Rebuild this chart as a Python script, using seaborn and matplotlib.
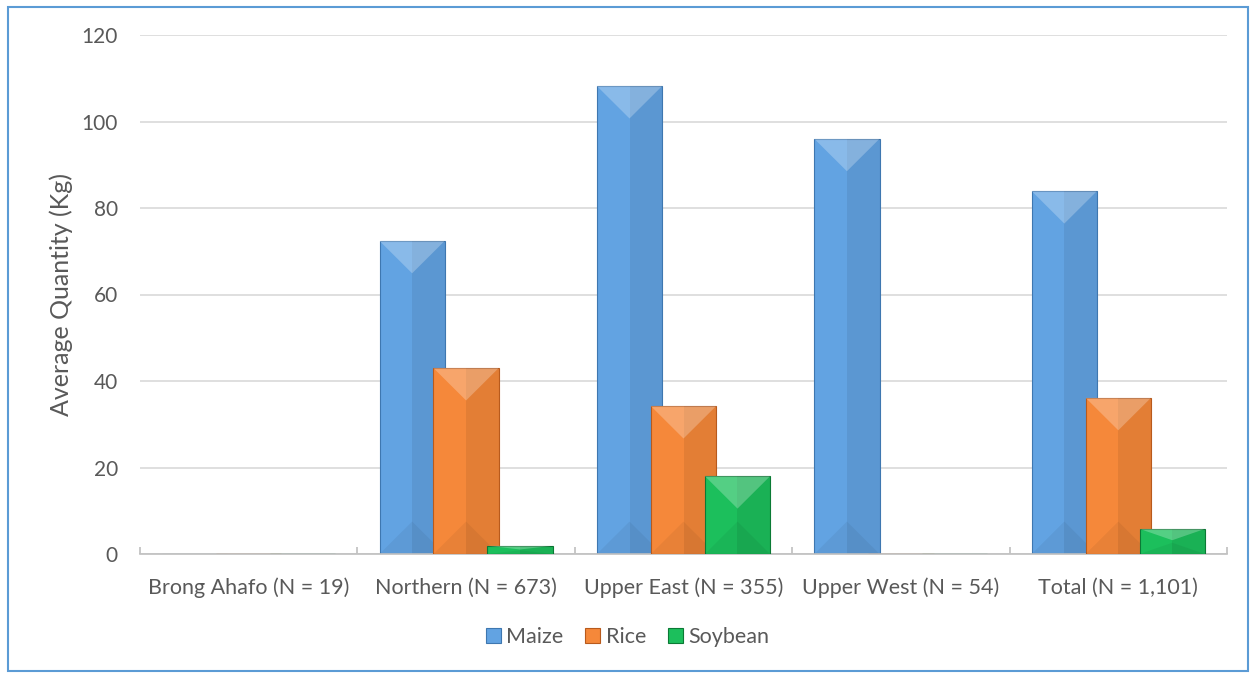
import matplotlib
matplotlib.use("Agg")
import matplotlib.pyplot as plt
import seaborn as sns
import pandas as pd
import numpy as np
from matplotlib.patches import Rectangle, Polygon
from matplotlib.ticker import FixedLocator

regions = ["Brong Ahafo (N = 19)", "Northern (N = 673)", "Upper East (N = 355)",
           "Upper West (N = 54)", "Total (N = 1,101)"]
crops = ["Maize", "Rice", "Soybean"]
maize = [0, 72.4, 108.2, 96.0, 83.9]
rice = [0, 43.0, 34.2, 0, 36.1]
soybean = [0, 1.9, 18.0, 0, 5.8]
yticks = [0, 20, 40, 60, 80, 100, 120]

colors = {"Maize": "#62A3E2", "Rice": "#F5883A", "Soybean": "#1CBF5C"}
edges = {"Maize": "#3E77B0", "Rice": "#B85A1C", "Soybean": "#0B7A35"}

df = pd.DataFrame({
    "Region": regions * 3,
    "Crop": ["Maize"] * 5 + ["Rice"] * 5 + ["Soybean"] * 5,
    "Value": maize + rice + soybean,
})

sns.set_theme(style="white")
plt.rcParams["font.family"] = ["Lato", "DejaVu Sans"]

fig = plt.figure(figsize=(12.55, 6.75), dpi=100)
ax = fig.add_axes([140 / 1255, 1 - 554 / 675, (1227 - 140) / 1255, (554 - 35) / 675])

sns.barplot(data=df, x="Region", y="Value", hue="Crop", hue_order=crops,
            palette=colors, width=0.745, ax=ax, legend=False, saturation=1)

bar_w = 0.30
for i, cont in enumerate(ax.containers):
    crop = crops[i]
    for p in cont.patches:
        cx = p.get_x() + p.get_width() / 2
        h = p.get_height()
        p.set_x(cx - bar_w / 2)
        p.set_width(bar_w)
        p.set_edgecolor(edges[crop])
        p.set_linewidth(0.8)
        p.set_zorder(2 + i)
        if h > 0:
            x0 = cx - bar_w / 2
            ax.add_patch(Rectangle((cx, 0), bar_w / 2, h, facecolor="black",
                                   alpha=0.07, linewidth=0, zorder=2 + i + 0.1))
            tri_h = min(7.5, h * 0.45)
            ax.add_patch(Polygon([(x0, h), (x0 + bar_w, h), (cx, h - tri_h)],
                                 closed=True, facecolor="white", alpha=0.25,
                                 linewidth=0, zorder=2 + i + 0.2))
            ax.add_patch(Polygon([(x0, 0), (x0 + bar_w, 0), (cx, tri_h)],
                                 closed=True, facecolor="black", alpha=0.05,
                                 linewidth=0, zorder=2 + i + 0.2))

ax.set_ylim(0, 120)
ax.set_xlim(-0.5, 4.5)
ax.set_yticks(yticks)
ax.yaxis.grid(True, color="#D9D9D9", linewidth=1.2)
ax.set_axisbelow(True)
for s in ["top", "right", "left"]:
    ax.spines[s].set_visible(False)
ax.spines["bottom"].set_color("#BFBFBF")
ax.spines["bottom"].set_linewidth(1.2)

ax.tick_params(axis="y", length=0, labelsize=15, labelcolor="#595959", pad=16)
ax.tick_params(axis="x", which="major", length=0, labelsize=15.5, labelcolor="#595959", pad=17)
ax.xaxis.set_minor_locator(FixedLocator(np.arange(-0.5, 5.0, 1.0)))
ax.tick_params(axis="x", which="minor", direction="in", length=5, color="#BFBFBF", width=1.2, bottom=True)
ax.set_xlabel("")
ax.set_ylabel("Average Quantity (Kg)", fontsize=18, color="#595959", labelpad=6)

handles = [Rectangle((0, 0), 1, 1, facecolor=colors[c], edgecolor=edges[c], linewidth=0.8)
           for c in crops]
fig.legend(handles, crops, loc="center", bbox_to_anchor=(0.5, 1 - 637 / 675), ncol=3,
           frameon=False, fontsize=15.5, handlelength=0.7, handleheight=0.7,
           handletextpad=0.25, columnspacing=1.0, labelcolor="#595959")

fig.patches.append(Rectangle((8 / 1255, 4 / 675), 1240 / 1255, 664 / 675,
                             transform=fig.transFigure, fill=False,
                             edgecolor="#5B9BD5", linewidth=1.5))

fig.savefig("out.png", dpi=100)
